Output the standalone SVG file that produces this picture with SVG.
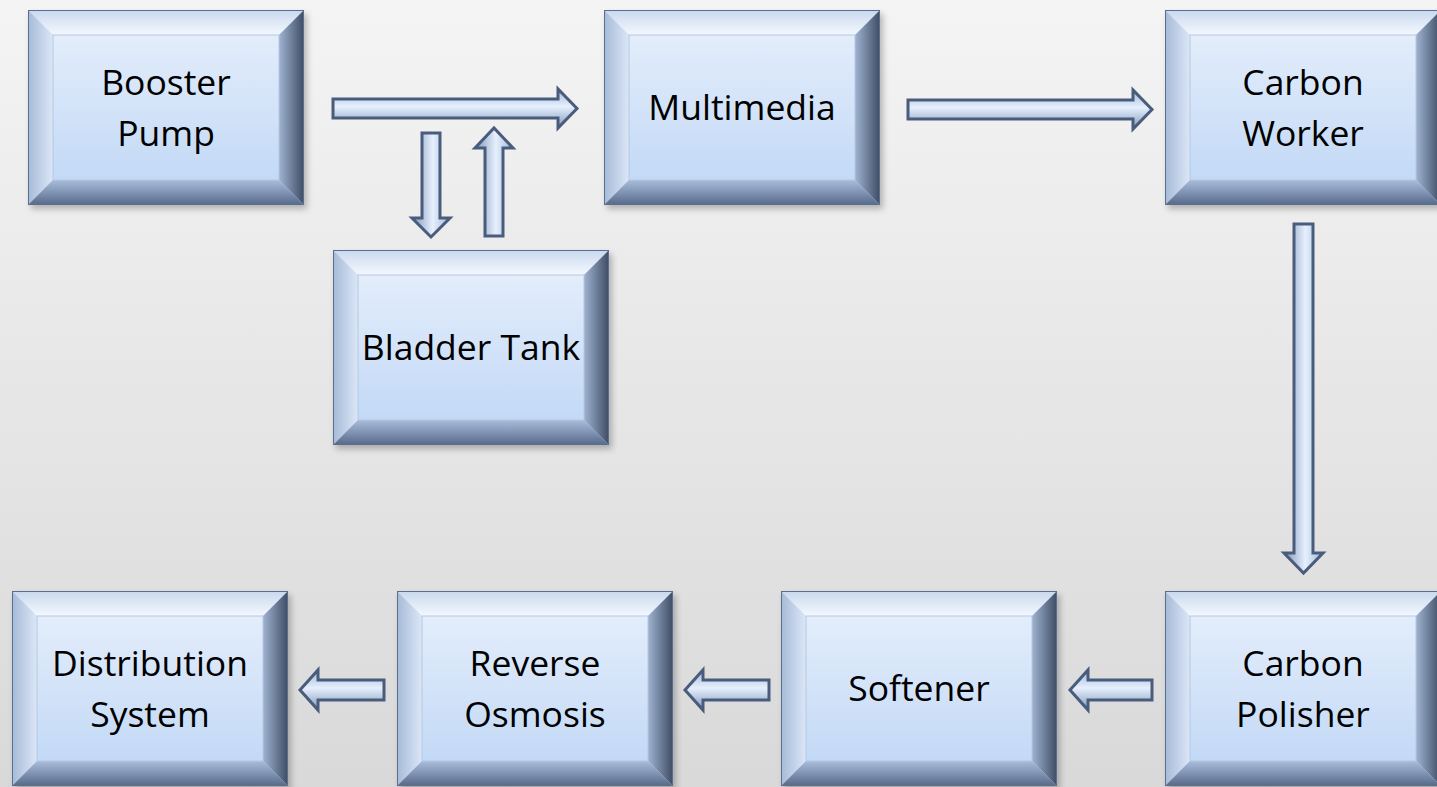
<svg xmlns="http://www.w3.org/2000/svg" xmlns:xlink="http://www.w3.org/1999/xlink" width="1437" height="787" viewBox="0 0 1437 787">
<defs>
<linearGradient id="bg" x1="0" y1="0" x2="0" y2="1"><stop offset="0" stop-color="#f4f4f4"/><stop offset="1" stop-color="#d9d9d9"/></linearGradient>
<linearGradient id="face" x1="0" y1="0" x2="0" y2="1"><stop offset="0" stop-color="#e3edfb"/><stop offset="1" stop-color="#c3d9f6"/></linearGradient>
<linearGradient id="topb" x1="0" y1="0" x2="0" y2="1"><stop offset="0" stop-color="#c9d8ee"/><stop offset="1" stop-color="#f4f8fe"/></linearGradient>
<linearGradient id="leftb" x1="0" y1="0" x2="1" y2="0"><stop offset="0" stop-color="#a6bad7"/><stop offset="1" stop-color="#dce7f7"/></linearGradient>
<linearGradient id="rightb" x1="0" y1="0" x2="1" y2="0"><stop offset="0" stop-color="#9fb3d1"/><stop offset="1" stop-color="#3e4c63"/></linearGradient>
<linearGradient id="botb" x1="0" y1="0" x2="0" y2="1"><stop offset="0" stop-color="#a9bddb"/><stop offset="1" stop-color="#56698a"/></linearGradient>
<linearGradient id="arrH" x1="0" y1="0" x2="0" y2="1"><stop offset="0" stop-color="#9fb6d8"/><stop offset="0.45" stop-color="#e6f0fd"/><stop offset="1" stop-color="#7f96bb"/></linearGradient>
<linearGradient id="arrV" x1="0" y1="0" x2="1" y2="0"><stop offset="0" stop-color="#7f96bb"/><stop offset="0.55" stop-color="#e6f0fd"/><stop offset="1" stop-color="#9fb6d8"/></linearGradient>
<filter id="sh" x="-10%" y="-10%" width="130%" height="130%"><feGaussianBlur stdDeviation="3"/></filter>
<g id="box">
<rect x="3" y="4" width="276" height="195" fill="#000" opacity="0.25" filter="url(#sh)"/>
<rect x="0" y="0" width="276" height="195" fill="url(#face)"/>
<polygon points="0,0 276,0 251,25 25,25" fill="url(#topb)"/>
<polygon points="0,0 25,25 25,170 0,195" fill="url(#leftb)"/>
<polygon points="276,0 276,195 251,170 251,25" fill="url(#rightb)"/>
<polygon points="0,195 276,195 251,170 25,170" fill="url(#botb)"/>
<rect x="25" y="25" width="226" height="145" fill="url(#face)" stroke="#b4c7e2" stroke-width="1"/>
<rect x="0.5" y="0.5" width="275" height="194" fill="none" stroke="#5a6e90" stroke-width="1"/>
</g>
</defs>
<style>
.t{font-family:"Open Sans","Liberation Sans",sans-serif;font-size:35.5px;fill:#000;text-anchor:middle}
.ah{fill:url(#arrH);stroke:#4a5c7c;stroke-width:3;stroke-linejoin:miter}
.av{fill:url(#arrV);stroke:#4a5c7c;stroke-width:3;stroke-linejoin:miter}
</style>
<rect width="1437" height="787" fill="url(#bg)"/>

<g id="connectors">
<path class="ah" d="M333,99 L558,99 L558,89 L577,108.5 L558,128 L558,118 L333,118 Z"/>
<path class="ah" d="M908,100 L1133,100 L1133,90 L1152,109.5 L1133,129 L1133,119 L908,119 Z"/>
<path class="av" d="M422,133 L440,133 L440,218 L450,218 L431,237 L412,218 L422,218 Z"/>
<path class="av" d="M485,236 L503,236 L503,148 L513,148 L494,128 L475,148 L485,148 Z"/>
<path class="av" d="M1294,224 L1313,224 L1313,553 L1323,553 L1303.5,573 L1284,553 L1294,553 Z"/>
<path class="ah" d="M1152,680 L1088,680 L1088,670 L1070,690 L1088,710 L1088,700 L1152,700 Z"/>
<path class="ah" d="M769,680 L703,680 L703,670 L685,690 L703,710 L703,700 L769,700 Z"/>
<path class="ah" d="M384,680 L318,680 L318,670 L300,690 L318,710 L318,700 L384,700 Z"/>
</g>

<g id="booster-pump"><use xlink:href="#box" x="28" y="10"/><text class="t" x="166" y="95">Booster</text><text class="t" x="166" y="146">Pump</text></g>
<g id="multimedia"><use xlink:href="#box" x="604" y="10"/><text class="t" x="742" y="120">Multimedia</text></g>
<g id="carbon-worker"><use xlink:href="#box" x="1165" y="10"/><text class="t" x="1303" y="95">Carbon</text><text class="t" x="1303" y="146">Worker</text></g>
<g id="bladder-tank"><use xlink:href="#box" x="333" y="250"/><text class="t" x="471" y="360">Bladder Tank</text></g>
<g id="distribution-system"><use xlink:href="#box" x="12" y="591"/><text class="t" x="150" y="676">Distribution</text><text class="t" x="150" y="727">System</text></g>
<g id="reverse-osmosis"><use xlink:href="#box" x="397" y="591"/><text class="t" x="535" y="676">Reverse</text><text class="t" x="535" y="727">Osmosis</text></g>
<g id="softener"><use xlink:href="#box" x="781" y="591"/><text class="t" x="919" y="701">Softener</text></g>
<g id="carbon-polisher"><use xlink:href="#box" x="1165" y="591"/><text class="t" x="1303" y="676">Carbon</text><text class="t" x="1303" y="727">Polisher</text></g>
</svg>
